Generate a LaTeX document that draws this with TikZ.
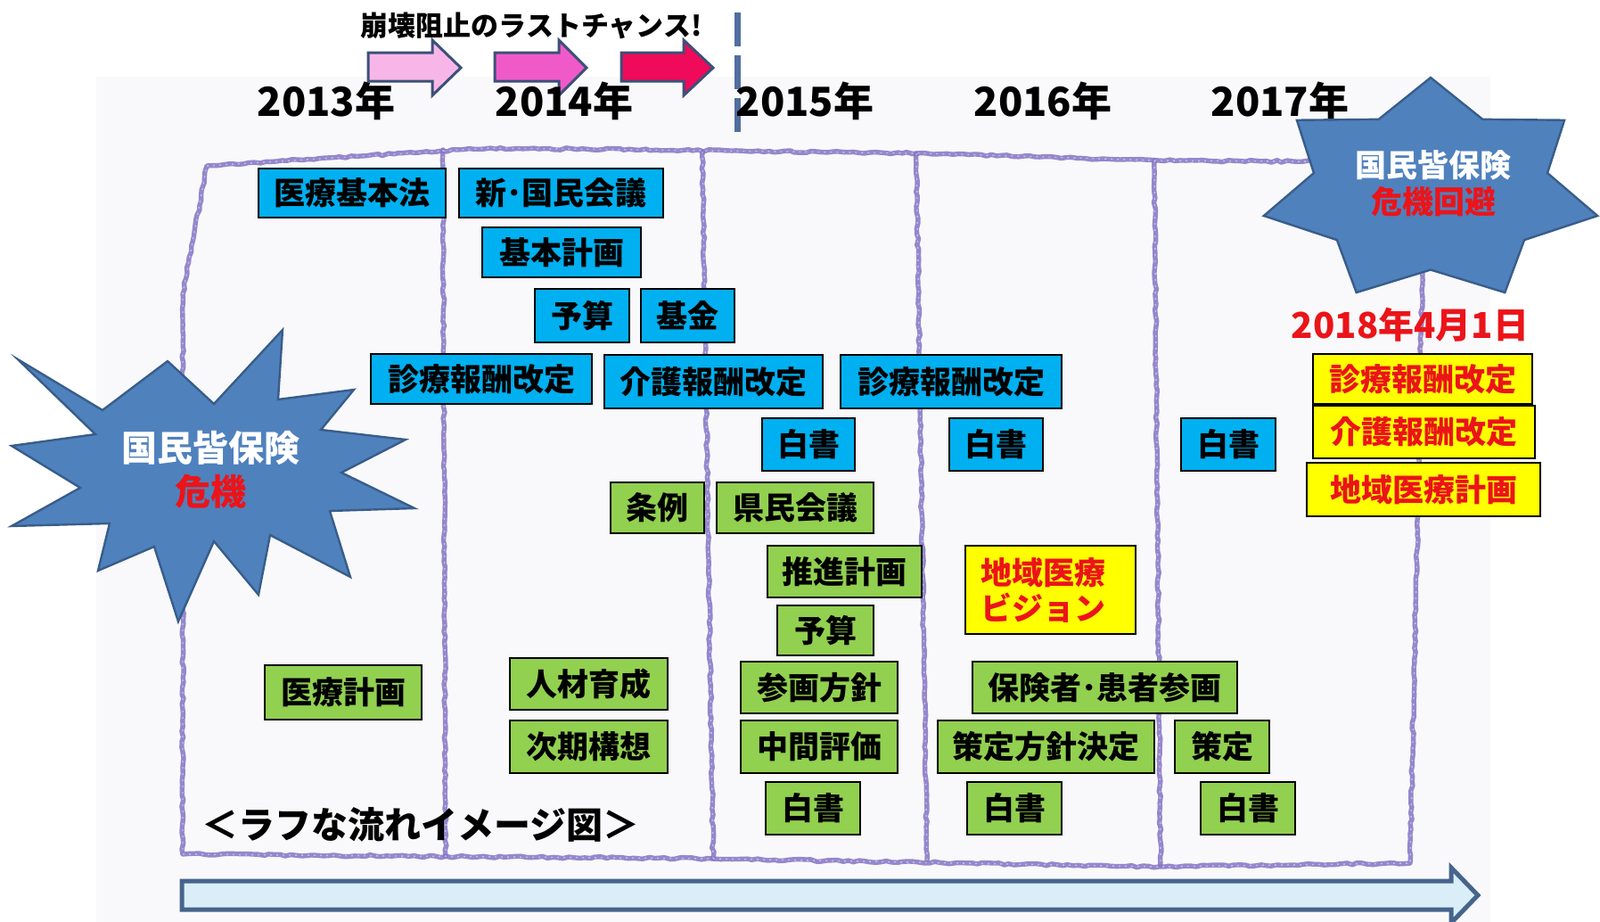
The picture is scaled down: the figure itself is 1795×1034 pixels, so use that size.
\documentclass[tikz,border=0pt]{standalone}
\usepackage{fontspec}
\setmainfont{Noto Sans CJK JP}
\usetikzlibrary{decorations.pathmorphing}
\definecolor{cBlue}{RGB}{0,176,240}
\definecolor{cGreen}{RGB}{146,208,80}
\definecolor{cYellow}{RGB}{255,255,0}
\definecolor{cRed}{RGB}{235,20,25}
\definecolor{cStar}{RGB}{79,129,189}
\definecolor{cStarEdge}{RGB}{56,93,138}
\definecolor{cCrayon}{RGB}{132,116,196}
\definecolor{cPinkA}{RGB}{248,182,232}
\definecolor{cPinkB}{RGB}{240,90,200}
\definecolor{cPinkC}{RGB}{240,10,90}
\definecolor{cArrowEdge}{RGB}{60,80,120}
\definecolor{cDash}{RGB}{80,110,160}
\definecolor{cBg}{RGB}{249,249,251}
\definecolor{cBigFill}{RGB}{218,238,248}
\definecolor{cBigEdge}{RGB}{70,100,140}
\newcommand\boxfont{\fontsize{17.5}{20}\selectfont\bfseries}
% box from corner (x1,y1) to (x2,y2) in picture units
\newcommand\bnode[7]{\node[#1, minimum width={(#5-#3)*0.5pt}, minimum height={(#6-#4)*0.5pt}] (#2) at ({(#3+#5)/2},{(#4+#6)/2}) {#7};}
\begin{document}
\begin{tikzpicture}[x=0.5pt,y=-0.5pt,
  base/.style={draw=black, line width=1.1pt, inner sep=0pt, font=\boxfont},
  bluebox/.style={base, fill=cBlue},
  greenbox/.style={base, fill=cGreen},
  yelbox/.style={base, fill=cYellow, text=cRed},
  crayon/.style={draw=cCrayon, line width=2.7pt, line join=round, line cap=round, opacity=0.85,
     decorate, decoration={random steps, segment length=3pt, amplitude=0.6pt}},
  crayontex/.style={draw=white, line width=0.7pt, opacity=0.45, dash pattern=on 1pt off 2.5pt},
  blockarrow/.style={draw=cArrowEdge, line width=1.5pt, line join=miter},
  starshape/.style={draw=cStarEdge, fill=cStar, line width=1.2pt, line join=miter},
  year/.style={font=\fontsize{22.5}{26}\selectfont\bfseries}
]
\useasboundingbox (0,0) rectangle (1795,1034);
\fill[cBg] (108,86) rectangle (1672,1034);

% title and progress arrows
\node[font=\fontsize{15.5}{18}\selectfont\bfseries] (title) at (596,29) {崩壊阻止のラストチャンス!};
\draw[blockarrow, fill=cPinkA] (413,59) -- (485,59) -- (485,45) -- (517,76) -- (485,107) -- (485,91) -- (413,91) -- cycle;
\draw[blockarrow, fill=cPinkB] (555,59) -- (627,59) -- (627,45) -- (658,76) -- (627,107) -- (627,91) -- (555,91) -- cycle;
\draw[blockarrow, fill=cPinkC] (697,59) -- (767,59) -- (767,45) -- (800,76) -- (767,107) -- (767,91) -- (697,91) -- cycle;
\coordinate (dtop) at (827,14);
\coordinate (dbot) at (827,151);
\draw[cDash, line width=3.5pt, dash pattern=on 19pt off 5pt] (dtop) -- (dbot);

% years
\node[year] (y13) at (366,113) {2013年};
\node[year] (y14) at (633,113) {2014年};
\node[year] (y15) at (903,113) {2015年};
\node[year] (y16) at (1170,113) {2016年};
\node[year] (y17) at (1436,113) {2017年};

% crayon frame
\foreach \sty in {crayon,crayontex}{
  \draw[\sty] (232,186) -- (550,166) -- (1040,172) -- (1300,180) -- (1598,182) -- (1590,600) -- (1582,968)
    -- (1300,972) -- (800,963) -- (205,958) -- (205,330) -- cycle;
  \draw[\sty] (497,168) -- (500,960);
  \draw[\sty] (788,170) -- (800,963);
  \draw[\sty] (1028,172) -- (1040,965);
  \draw[\sty] (1295,180) -- (1302,970);
}

% big time arrow
\draw[draw=cBigEdge, fill=cBigFill, line width=2.5pt, line join=miter]
  (204,988) -- (1628,988) -- (1628,973) -- (1658,1004) -- (1628,1035) -- (1628,1020) -- (204,1020) -- cycle;

% blue boxes
\bnode{bluebox}{b1}{290}{189}{500}{244}{医療基本法}
\bnode{bluebox}{b2}{515}{189}{744}{244}{新･国民会議}
\bnode{bluebox}{b3}{541}{255}{719}{311}{基本計画}
\bnode{bluebox}{b4}{600}{324}{706}{384}{予算}
\bnode{bluebox}{b5}{719}{324}{824}{384}{基金}
\bnode{bluebox}{b6}{416}{397}{664}{453}{診療報酬改定}
\bnode{bluebox}{b7}{678}{398}{923}{458}{介護報酬改定}
\bnode{bluebox}{b8}{943}{398}{1191}{458}{診療報酬改定}
\bnode{bluebox}{b9}{855}{469}{959}{528}{白書}
\bnode{bluebox}{b10}{1065}{469}{1170}{528}{白書}
\bnode{bluebox}{b11}{1325}{469}{1431}{528}{白書}

% green boxes
\bnode{greenbox}{g1}{685}{541}{790}{598}{条例}
\bnode{greenbox}{g2}{804}{541}{980}{598}{県民会議}
\bnode{greenbox}{g3}{861}{612}{1034}{670}{推進計画}
\bnode{greenbox}{g4}{872}{679}{980}{735}{予算}
\bnode{greenbox}{g5}{831}{742}{1007}{800}{参画方針}
\bnode{greenbox}{g6}{831}{808}{1007}{867}{中間評価}
\bnode{greenbox}{g7}{859}{877}{965}{936}{白書}
\bnode{greenbox}{g8}{297}{746}{473}{807}{医療計画}
\bnode{greenbox}{g9}{572}{738}{749}{796}{人材育成}
\bnode{greenbox}{g10}{572}{808}{749}{867}{次期構想}
\bnode{greenbox}{g11}{1091}{742}{1388}{800}{保険者･患者参画}
\bnode{greenbox}{g12}{1052}{808}{1295}{867}{策定方針決定}
\bnode{greenbox}{g13}{1318}{808}{1424}{867}{策定}
\bnode{greenbox}{g14}{1085}{877}{1191}{936}{白書}
\bnode{greenbox}{g15}{1347}{877}{1453}{936}{白書}

% yellow boxes
\bnode{yelbox}{yv}{1083}{612}{1274}{711}{}
\node[anchor=west, align=left, text=cRed, font=\boxfont, inner sep=0pt] (yvt) at ([xshift=9pt]yv.west) {地域医療\\ビジョン};
\bnode{yelbox}{ya}{1473}{397}{1719}{453}{診療報酬改定}
\bnode{yelbox}{yb}{1473}{455}{1722}{514}{介護報酬改定}
\bnode{yelbox}{yc}{1466}{519}{1728}{579}{地域医療計画}

\node[text=cRed, font=\fontsize{20}{24}\selectfont\bfseries] (date) at (1582,364) {2018年4月1日};

% left explosion
\draw[starshape] (20,403) -- (115,460) -- (188,405) -- (240,453) -- (317,370) -- (312,448) -- (397,437)
  -- (360,482) -- (455,493) -- (383,530) -- (465,570) -- (370,573) -- (393,647) -- (303,600)
  -- (290,667) -- (240,607) -- (200,697) -- (173,613) -- (110,640) -- (123,587) -- (13,590)
  -- (90,547) -- (13,500) -- (107,487) -- cycle;
\node[align=center, text=white, font=\fontsize{20}{24.5}\selectfont\bfseries] (lstar) at (236,527)
  {国民皆保険\\\textcolor{cRed}{危機}};

% right 7-point star
\draw[starshape] (1605,87)
  \foreach \i in {0,...,6} {
    -- ({1605+192*cos(90-\i*51.4286)},{213.8-126.8*sin(90-\i*51.4286)})
    -- ({1605+0.70*192*cos(90-\i*51.4286-25.7143)},{213.8-0.70*126.8*sin(90-\i*51.4286-25.7143)})
  } -- cycle;
\node[align=center, text=white, font=\fontsize{17.5}{20.5}\selectfont\bfseries] (rstar) at (1608,206)
  {国民皆保険\\\textcolor{cRed}{危機回避}};

\node[anchor=west, inner sep=0pt, font=\fontsize{20.5}{24}\selectfont\bfseries] (caption) at (226,925) {＜ラフな流れイメージ図＞};
\end{tikzpicture}
\end{document}
